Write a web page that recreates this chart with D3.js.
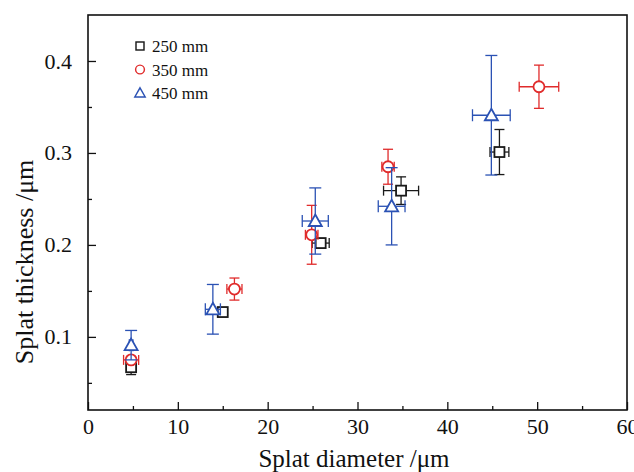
<!DOCTYPE html>
<html>
<head>
<meta charset="utf-8">
<script src="https://cdn.jsdelivr.net/npm/d3@7"></script>
<style>
  body { margin: 0; background: #fff; }
  svg text { font-family: 'Liberation Serif', 'Times New Roman', serif; }
</style>
</head>
<body>
<script>

// series names and colours
var seriesNames = ["250 mm", "350 mm", "450 mm"];
var seriesColors = ["#1a1a1a", "#e02b2b", "#2b52b4"];
var seriesShapes = ["square", "circle", "triangle"];

// 250 mm: diameter, thickness, errors
var d250 = [4.8, 15.0, 25.9, 34.85, 45.8];
var t250 = [0.067, 0.127, 0.202, 0.259, 0.301];
var dx250 = [0.3, 0.5, 0.95, 1.95, 1.05];
var dy250 = [0.008, 0.004, 0.005, 0.015, 0.0245];

// 350 mm
var d350 = [4.8, 16.3, 24.9, 33.4, 50.2];
var t350 = [0.075, 0.152, 0.211, 0.285, 0.372];
var dx350 = [0.84, 0.84, 0.7, 0.69, 2.2];
var dy350 = [0.003, 0.012, 0.032, 0.019, 0.0235];

// 450 mm
var d450 = [4.8, 13.9, 25.3, 33.8, 44.9];
var t450 = [0.091, 0.130, 0.226, 0.242, 0.341];
var dx450 = [0.2, 0.84, 1.45, 1.49, 2.1];
var dy450 = [0.016, 0.027, 0.036, 0.042, 0.065];

// tick values
var xTicks = [0, 10, 20, 30, 40, 50, 60];
var xMinor = [5, 15, 25, 35, 45, 55];
var yTicks = [0.1, 0.2, 0.3, 0.4];
var yMinor = [0.05, 0.15, 0.25, 0.35];

var width = 634, height = 472;
var margin = {top: 15, right: 7, bottom: 62, left: 88};
var serif = "'Liberation Serif', 'Times New Roman', serif";

var svg = d3.select("body").append("svg")
    .attr("width", width)
    .attr("height", height);

var x = d3.scaleLinear().domain([0, 60]).range([margin.left, width - margin.right]);
var y = d3.scaleLinear().domain([0.0205, 0.45]).range([height - margin.bottom, margin.top]);

// build series rows
var series = [
  {d: d250, t: t250, dx: dx250, dy: dy250},
  {d: d350, t: t350, dx: dx350, dy: dy350},
  {d: d450, t: t450, dx: dx450, dy: dy450}
].map(function(s, k) {
  return s.d.map(function(v, i) {
    return {d: v, t: s.t[i], ex: s.dx[i], ey: s.dy[i], k: k};
  });
});

// style an axis group
function styleAxis(g) {
  g.attr("font-family", null);
  g.select(".domain").remove();
  g.selectAll("text")
   .style("font-family", serif)
   .style("font-size", "22px")
   .attr("fill", "#111");
  g.selectAll("line").attr("stroke", "#111").attr("stroke-width", 1.3);
}

// x axis (ticks point inward)
svg.append("g")
   .attr("transform", "translate(0," + (height - margin.bottom) + ")")
   .call(d3.axisBottom(x).tickValues(xTicks).tickSize(-8).tickPadding(8).tickFormat(d3.format("d")))
   .call(styleAxis);

svg.append("g")
   .attr("transform", "translate(0," + (height - margin.bottom) + ")")
   .call(d3.axisBottom(x).tickValues(xMinor).tickSize(-4).tickFormat(""))
   .call(styleAxis);

// y axis
svg.append("g")
   .attr("transform", "translate(" + margin.left + ",0)")
   .call(d3.axisLeft(y).tickValues(yTicks).tickSize(-8).tickPadding(16).tickFormat(d3.format(".1f")))
   .call(styleAxis);

svg.append("g")
   .attr("transform", "translate(" + margin.left + ",0)")
   .call(d3.axisLeft(y).tickValues(yMinor).tickSize(-4).tickFormat(""))
   .call(styleAxis);

// frame
svg.append("rect")
   .attr("x", margin.left)
   .attr("y", margin.top)
   .attr("width", width - margin.left - margin.right)
   .attr("height", height - margin.top - margin.bottom)
   .attr("fill", "none")
   .attr("stroke", "#111")
   .attr("stroke-width", 1.6);

// axis titles
svg.append("text")
   .attr("x", 354)
   .attr("y", 467)
   .attr("text-anchor", "middle")
   .style("font-size", "25px")
   .attr("fill", "#111")
   .text("Splat diameter /\u03bcm");

svg.append("text")
   .attr("transform", "translate(33,262) rotate(-90)")
   .attr("text-anchor", "middle")
   .style("font-size", "26px")
   .attr("fill", "#111")
   .text("Splat thickness /\u03bcm");

// marker drawing
function drawMarker(g, shape, color) {
  if (shape == "square") {
    g.append("rect").attr("x", -5).attr("y", -5).attr("width", 10).attr("height", 10)
     .attr("fill", "#fff").attr("stroke", color).attr("stroke-width", 1.8);
  } else if (shape == "circle") {
    g.append("circle").attr("r", 5.5)
     .attr("fill", "#fff").attr("stroke", color).attr("stroke-width", 1.8);
  } else {
    g.append("path").attr("d", "M0,-6.5L6.5,5L-6.5,5Z")
     .attr("fill", "#fff").attr("stroke", color).attr("stroke-width", 1.8);
  }
}

// draw series: error bars then markers
series.forEach(function(rows, k) {
  var color = seriesColors[k];
  var cap = k == 2 ? 6 : 5;
  var grp = svg.append("g").attr("class", "series" + k);

  var err = grp.selectAll(".err").data(rows).enter().append("g").attr("class", "err")
     .attr("stroke", color).attr("stroke-width", 1.3);

  // vertical error
  err.append("line")
     .attr("x1", function(d) { return x(d.d); }).attr("x2", function(d) { return x(d.d); })
     .attr("y1", function(d) { return y(d.t - d.ey); }).attr("y2", function(d) { return y(d.t + d.ey); });
  err.append("line")
     .attr("x1", function(d) { return x(d.d) - cap; }).attr("x2", function(d) { return x(d.d) + cap; })
     .attr("y1", function(d) { return y(d.t + d.ey); }).attr("y2", function(d) { return y(d.t + d.ey); });
  err.append("line")
     .attr("x1", function(d) { return x(d.d) - cap; }).attr("x2", function(d) { return x(d.d) + cap; })
     .attr("y1", function(d) { return y(d.t - d.ey); }).attr("y2", function(d) { return y(d.t - d.ey); });

  // horizontal error
  err.append("line")
     .attr("x1", function(d) { return x(d.d - d.ex); }).attr("x2", function(d) { return x(d.d + d.ex); })
     .attr("y1", function(d) { return y(d.t); }).attr("y2", function(d) { return y(d.t); });
  err.append("line")
     .attr("x1", function(d) { return x(d.d - d.ex); }).attr("x2", function(d) { return x(d.d - d.ex); })
     .attr("y1", function(d) { return y(d.t) - cap; }).attr("y2", function(d) { return y(d.t) + cap; });
  err.append("line")
     .attr("x1", function(d) { return x(d.d + d.ex); }).attr("x2", function(d) { return x(d.d + d.ex); })
     .attr("y1", function(d) { return y(d.t) - cap; }).attr("y2", function(d) { return y(d.t) + cap; });

  grp.selectAll(".pt").data(rows).enter().append("g").attr("class", "pt")
     .attr("transform", function(d) { return "translate(" + x(d.d) + "," + y(d.t) + ")"; })
     .each(function() { drawMarker(d3.select(this), seriesShapes[k], color); });
});

// legend
var legend = svg.selectAll(".legend").data(seriesNames).enter().append("g")
   .attr("class", "legend")
   .attr("transform", function(d, i) { return "translate(140," + (46 + i * 23.5) + ")"; });

legend.each(function(d, i) {
  var g = d3.select(this).append("g").attr("transform", "scale(0.8)");
  drawMarker(g, seriesShapes[i], seriesColors[i]);
});

legend.append("text")
   .attr("x", 12)
   .attr("y", 6)
   .style("font-size", "17px")
   .attr("fill", "#111")
   .text(function(d) { return d; });

</script>
</body>
</html>
